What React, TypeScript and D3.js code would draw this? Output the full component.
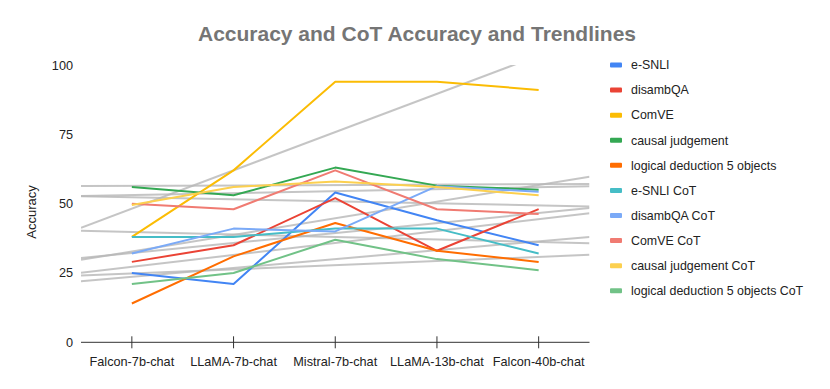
import React from "react";
import * as d3 from "d3";

const categories = ["Falcon-7b-chat", "LLaMA-7b-chat", "Mistral-7b-chat", "LLaMA-13b-chat", "Falcon-40b-chat"];
const seriesNames = [
  "e-SNLI",
  "disambQA",
  "ComVE",
  "causal judgement",
  "logical deduction 5 objects",
  "e-SNLI CoT",
  "disambQA CoT",
  "ComVE CoT",
  "causal judgement CoT",
  "logical deduction 5 objects CoT",
];
const eSNLI = [25, 21, 54, 44, 35];
const disambQA = [29, 35, 52, 33, 48];
const comVE = [38, 62, 94, 94, 91];
const causal = [56, 53, 63, 56.5, 55];
const logical = [14, 31, 43, 33, 29];
const eSNLICoT = [38, 38, 41, 41, 32];
const disambQACoT = [32, 41, 40, 56.3, 54.3];
const comVECoT = [50, 48, 62, 48, 46.3];
const causalCoT = [49.5, 56, 58, 56, 53];
const logicalCoT = [21, 25, 37, 30, 26];
const seriesValues = [eSNLI, disambQA, comVE, causal, logical, eSNLICoT, disambQACoT, comVECoT, causalCoT, logicalCoT];
const colors = ["#4285F4", "#EA4335", "#FBBC04", "#34A853", "#FF6D01", "#46BDC6", "#7BAAF7", "#F07B72", "#FCD04F", "#71C287"];
const yTicks = [0, 25, 50, 75, 100];

const W = 830;
const H = 389;
const M = { left: 81, right: 589.5, top: 65, bottom: 342.3 };

function regression(vals: number[]) {
  const xs = vals.map((_, i) => i);
  const mx = d3.mean(xs) as number;
  const my = d3.mean(vals) as number;
  let num = 0, den = 0;
  xs.forEach((x, i) => { num += (x - mx) * (vals[i] - my); den += (x - mx) * (x - mx); });
  const slope = num / den;
  return (x: number) => my + slope * (x - mx);
}

export default function App() {
  const x = d3.scaleBand<string>().domain(categories).range([M.left, M.right]);
  const y = d3.scaleLinear().domain([0, 100]).range([M.bottom, M.top]);
  const cx = (i: number) => (x(categories[i]) as number) + x.bandwidth() / 2;
  const idxToPx = d3.scaleLinear().domain([-0.5, categories.length - 0.5]).range([M.left, M.right]);
  const line = d3.line<number>().x((_, i) => cx(i)).y((d) => y(d));
  const font = "Arial, 'Liberation Sans', sans-serif";

  return (
    <svg width={W} height={H} style={{ position: "absolute", left: 0, top: 0, background: "#fff" }} fontFamily={font}>
      <defs>
        <clipPath id="plotClip">
          <rect x={M.left} y={M.top} width={M.right - M.left} height={M.bottom - M.top} />
        </clipPath>
      </defs>
      <text x={417} y={41} textAnchor="middle" fontSize={21} fontWeight="bold" fill="#757575">
        Accuracy and CoT Accuracy and Trendlines
      </text>
      <text transform={`translate(35.5,212) rotate(-90)`} textAnchor="middle" fontSize={13} fill="#222">
        Accuracy
      </text>
      {yTicks.map((t) => (
        <text key={t} x={73} y={y(t) + 4.5} textAnchor="end" fontSize={12.7} fill="#222">
          {t}
        </text>
      ))}
      <g clipPath="url(#plotClip)">
        {seriesValues.map((vals, si) => {
          const f = regression(vals);
          const x0 = -0.5, x1 = categories.length - 0.5;
          return (
            <line key={"t" + si} x1={idxToPx(x0)} y1={y(f(x0))} x2={idxToPx(x1)} y2={y(f(x1))}
              stroke="#b7b7b7" strokeOpacity={0.8} strokeWidth={2} />
          );
        })}
      </g>
      {seriesValues.map((vals, si) => (
        <path key={"s" + si} d={line(vals) as string} fill="none" stroke={colors[si]} strokeWidth={2} strokeLinejoin="round" />
      ))}
      <line x1={M.left} x2={M.right} y1={M.bottom} y2={M.bottom} stroke="#333" strokeWidth={1} />
      {categories.map((c, i) => (
        <g key={c}>
          <line x1={cx(i)} x2={cx(i)} y1={M.bottom - 6} y2={M.bottom + 6} stroke="#333" strokeWidth={1} />
          <text x={cx(i)} y={M.bottom + 23.5} textAnchor="middle" fontSize={12.7} fill="#222">
            {c}
          </text>
        </g>
      ))}
      {seriesNames.map((n, i) => {
        const ly = 65 + i * 25.08;
        return (
          <g key={n}>
            <rect x={610} y={ly - 2.5} width={12} height={5} rx={1} fill={colors[i]} />
            <text x={631} y={ly + 4.3} fontSize={12.4} fill="#222">
              {n}
            </text>
          </g>
        );
      })}
    </svg>
  );
}
